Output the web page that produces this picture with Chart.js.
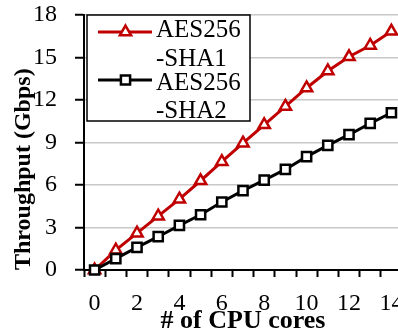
<!DOCTYPE html>
<html>
<head>
<meta charset="utf-8">
<script src="https://cdn.jsdelivr.net/npm/chart.js@4/dist/chart.umd.min.js"></script>
<style>
  html, body { margin: 0; padding: 0; background: #fff; overflow: hidden; }
  #wrap { position: absolute; left: 0; top: 0; width: 420px; height: 335px; }
</style>
</head>
<body>
<div id="wrap"><canvas id="chart" width="420" height="335"></canvas></div>
<script>
  // values
  const cores = ['0', '1', '2', '3', '4', '5', '6', '7', '8', '9', '10', '11', '12', '13', '14'];
  const sha1 = [0, 1.4, 2.6, 3.8, 5.0, 6.3, 7.65, 8.95, 10.25, 11.55, 12.85, 14.05, 15.05, 15.85, 16.85];
  const sha2 = [0, 0.8, 1.6, 2.35, 3.15, 3.9, 4.8, 5.6, 6.35, 7.1, 8.0, 8.8, 9.55, 10.35, 11.1];
  const legendText = [['AES256', '-SHA1'], ['AES256', '-SHA2']];
  const yMax = 18, yStep = 3;

  const serif = '"Liberation Serif", "Times New Roman", serif';

  // legend box with two-line labels, drawn on top of the plot
  const boxLegend = {
    id: 'boxLegend',
    afterDraw(chart) {
      const ctx = chart.ctx;
      const ds = chart.data.datasets;
      ctx.save();
      ctx.fillStyle = '#fff';
      ctx.fillRect(87, 15, 163, 106);
      ctx.strokeStyle = '#000';
      ctx.lineWidth = 1.5;
      ctx.strokeRect(87, 15, 163, 106);
      const rows = [{ y: 32, base: [37, 66] }, { y: 80, base: [90, 118] }];
      rows.forEach((r, i) => {
        const d = ds[i];
        ctx.strokeStyle = d.borderColor;
        ctx.lineWidth = 3;
        ctx.beginPath();
        ctx.moveTo(98, r.y);
        ctx.lineTo(152, r.y);
        ctx.stroke();
        ctx.fillStyle = d.pointBackgroundColor;
        ctx.strokeStyle = d.pointBorderColor;
        ctx.lineWidth = d.pointBorderWidth;
        Chart.helpers.drawPoint(ctx, {
          pointStyle: d.pointStyle, radius: d.pointRadius,
          borderWidth: d.pointBorderWidth, rotation: 0
        }, 125.5, r.y);
        ctx.fillStyle = '#000';
        ctx.font = '25px ' + serif;
        ctx.textAlign = 'left';
        ctx.textBaseline = 'alphabetic';
        legendText[i].forEach((t, k) => ctx.fillText(t, 156, r.base[k]));
      });
      ctx.restore();
    }
  };

  new Chart(document.getElementById('chart'), {
    type: 'line',
    data: {
      labels: cores,
      datasets: [
        {
          label: 'AES256-SHA1',
          data: sha1,
          borderColor: '#c00000',
          borderWidth: 3,
          pointStyle: 'triangle',
          pointRadius: 6.5,
          pointBorderWidth: 2.5,
          pointBorderColor: '#c00000',
          pointBackgroundColor: '#fff',
          clip: false,
          order: 2
        },
        {
          label: 'AES256-SHA2',
          data: sha2,
          borderColor: '#000',
          borderWidth: 3,
          pointStyle: 'rect',
          pointRadius: 6.5,
          pointBorderWidth: 2.5,
          pointBorderColor: '#000',
          pointBackgroundColor: '#fff',
          clip: false,
          order: 1
        }
      ]
    },
    options: {
      responsive: false,
      animation: false,
      layout: { padding: { top: 15, right: 18, bottom: 0, left: 0 } },
      plugins: { legend: { display: false }, tooltip: { enabled: false } },
      scales: {
        x: {
          offset: true,
          afterFit: s => { s.height = 65; s.paddingLeft = 0; s.paddingRight = 0; },
          grid: { offset: true, drawOnChartArea: false, tickLength: 7, tickColor: '#000', tickWidth: 2 },
          border: { color: '#000', width: 2 },
          ticks: {
            autoSkip: false, maxRotation: 0, padding: 12, color: '#000',
            font: { family: serif, size: 24 },
            callback: (v, i) => (i % 2 === 0 ? cores[i] : '')
          },
          title: {
            display: true, text: '# of CPU cores', color: '#000',
            font: { family: serif, size: 26, weight: 'bold', lineHeight: 1 },
            padding: { top: 0, bottom: 1 }
          }
        },
        y: {
          min: 0, max: yMax,
          afterFit: s => { s.width = 84; s.paddingTop = 0; s.paddingBottom = 0; },
          grid: { color: '#c8c8c8', lineWidth: 1.5, tickLength: 9, tickColor: '#000', tickWidth: 2 },
          border: { color: '#000', width: 2 },
          ticks: { stepSize: yStep, padding: 18, color: '#000', font: { family: serif, size: 24 } },
          title: {
            display: true, text: 'Throughput (Gbps)', align: 'start', color: '#000',
            font: { family: serif, size: 24, weight: 'bold', lineHeight: 1 },
            padding: { top: 12, bottom: 0 }
          }
        }
      }
    },
    plugins: [boxLegend]
  });
</script>
</body>
</html>
